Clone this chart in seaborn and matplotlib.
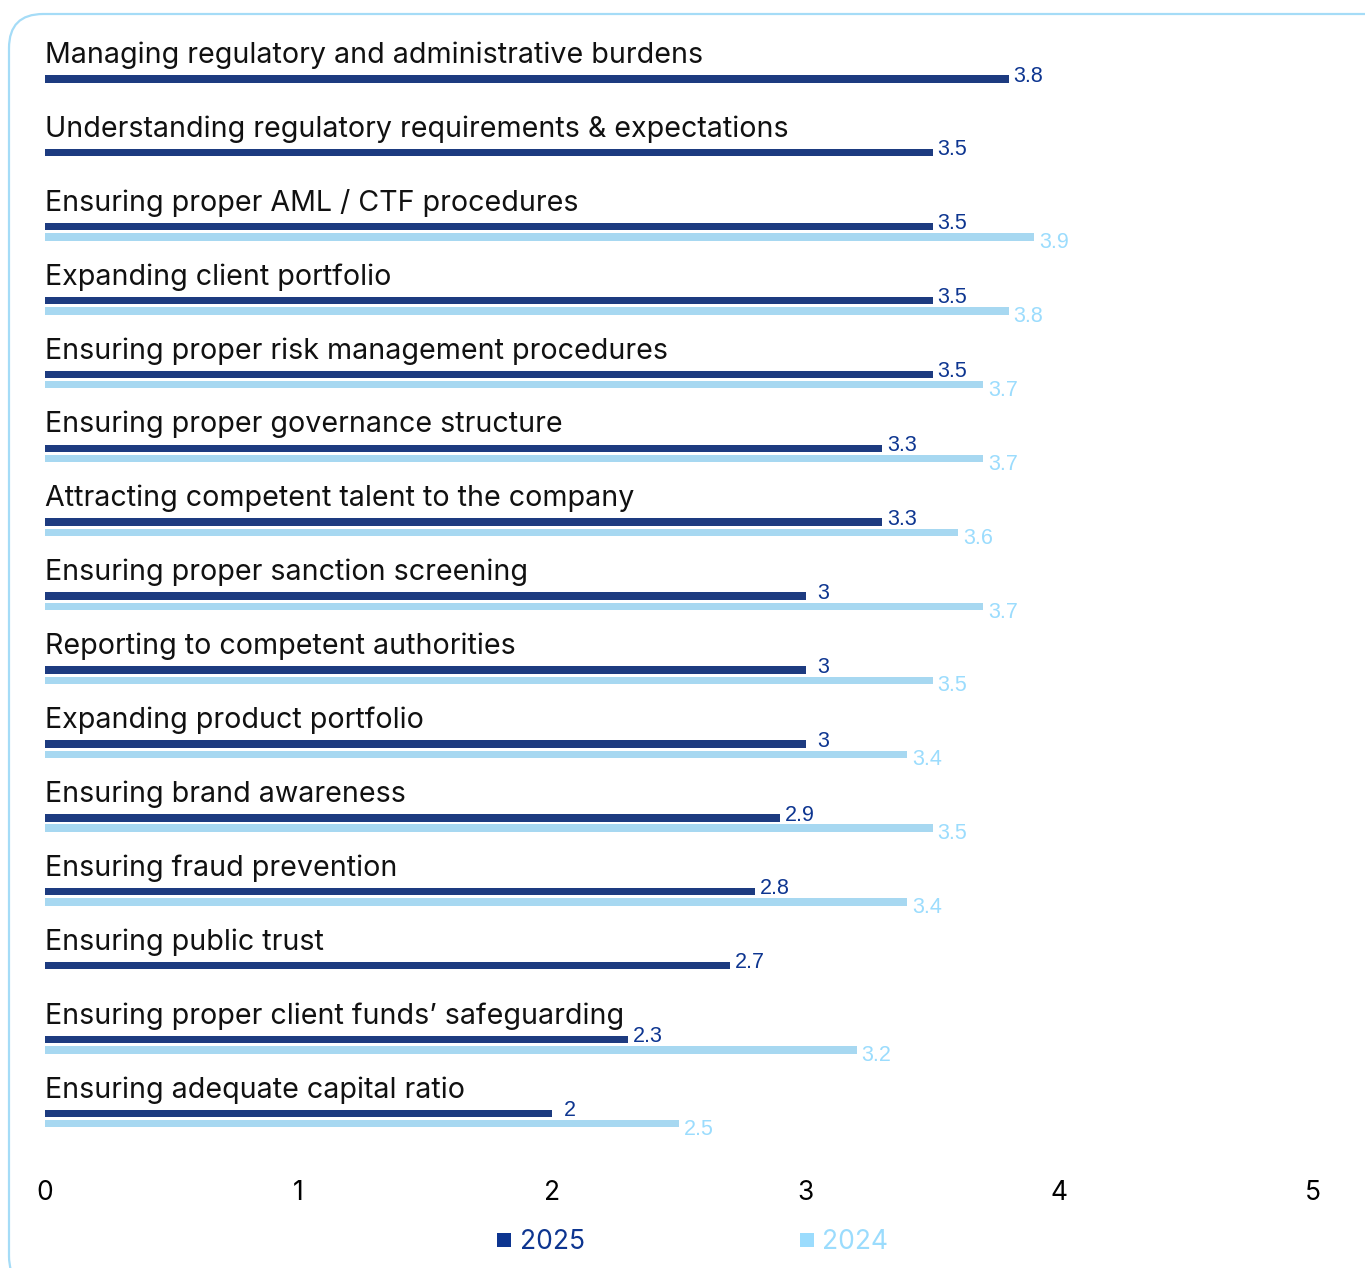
import numpy as np
import pandas as pd
import matplotlib
matplotlib.use("Agg")
import matplotlib.pyplot as plt
from matplotlib.patches import FancyBboxPatch
from matplotlib.lines import Line2D
import seaborn as sns

categories = [
    "Managing regulatory and administrative burdens",
    "Understanding regulatory requirements & expectations",
    "Ensuring proper AML / CTF procedures",
    "Expanding client portfolio",
    "Ensuring proper risk management procedures",
    "Ensuring proper governance structure",
    "Attracting competent talent to the company",
    "Ensuring proper sanction screening",
    "Reporting to competent authorities",
    "Expanding product portfolio",
    "Ensuring brand awareness",
    "Ensuring fraud prevention",
    "Ensuring public trust",
    "Ensuring proper client funds\u2019 safeguarding",
    "Ensuring adequate capital ratio",
]
values_2025 = [3.8, 3.5, 3.5, 3.5, 3.5, 3.3, 3.3, 3.0, 3.0, 3.0, 2.9, 2.8, 2.7, 2.3, 2.0]
values_2024 = [np.nan, np.nan, 3.9, 3.8, 3.7, 3.7, 3.6, 3.7, 3.5, 3.4, 3.5, 3.4, np.nan, 3.2, 2.5]
labels_2025 = ["3.8", "3.5", "3.5", "3.5", "3.5", "3.3", "3.3", "3", "3", "3", "2.9", "2.8", "2.7", "2.3", "2"]
labels_2024 = ["", "", "3.9", "3.8", "3.7", "3.7", "3.6", "3.7", "3.5", "3.4", "3.5", "3.4", "", "3.2", "2.5"]
years = ["2025", "2024"]
x_ticks = [0, 1, 2, 3, 4, 5]

DARK = "#0d3590"
LIGHT = "#9bdcfd"
palette = {"2025": DARK, "2024": LIGHT}

df = pd.DataFrame({
    "category": categories * 2,
    "value": values_2025 + values_2024,
    "year": ["2025"] * len(categories) + ["2024"] * len(categories),
})

W, H, DPI = 1365, 1268, 100
sns.set_style("white")
plt.rcParams["font.family"] = ["Inter", "DejaVu Sans"]
fig = plt.figure(figsize=(W / DPI, H / DPI), dpi=DPI)

# rounded frame
frame = FancyBboxPatch((9 / W, 1 - 1290 / H), (1400 - 9) / W, (1290 - 14) / H,
                       boxstyle="round,pad=0,rounding_size=0.025",
                       transform=fig.transFigure, facecolor="none",
                       edgecolor="#a5dcf7", linewidth=1.6, zorder=-5,
                       mutation_aspect=W / H)
fig.patches.append(frame)

left_px, right_px = 45, 1313
top_px, bottom_px = 20, 1165
ax = fig.add_axes([left_px / W, 1 - bottom_px / H, (right_px - left_px) / W, (bottom_px - top_px) / H])
ax.patch.set_alpha(0)

sns.barplot(data=df, y="category", x="value", hue="year", hue_order=years,
            palette=palette, orient="h", width=0.28, gap=0.28, dodge=True,
            errorbar=None, linewidth=0, legend=False, ax=ax)

ax.set_xlim(0, 5)
ax.set_ylim(14.628, -0.866)
ax.set_xticks(x_ticks)
ax.set_xticklabels([str(t) for t in x_ticks], fontsize=19, color="black")
ax.tick_params(axis="x", length=0, pad=11)
ax.set_yticks([])
ax.set_xlabel("")
ax.set_ylabel("")
for s in ax.spines.values():
    s.set_visible(False)

for i, cat in enumerate(categories):
    ax.text(0, i - 0.39, cat, fontsize=20.6, color="#111111", va="center", ha="left")
    v = values_2025[i]
    lab = labels_2025[i]
    ax.annotate(lab, (v, i - 0.07), xytext=(3.5 if len(lab) > 1 else 8.5, 2),
                textcoords="offset points", fontsize=15.5, color=DARK,
                va="center", ha="left", family="Liberation Sans")
    v2 = values_2024[i]
    if not np.isnan(v2):
        ax.annotate(labels_2024[i], (v2, i + 0.07), xytext=(3.5, -4), textcoords="offset points",
                    fontsize=15.5, color=LIGHT, va="center", ha="left", family="Liberation Sans")

handles = [Line2D([], [], marker="s", linestyle="none", markersize=10,
                  markerfacecolor=palette[y], markeredgewidth=0) for y in years]
leg = fig.legend(handles, years, loc="center", bbox_to_anchor=(691 / W, 1 - 1242 / H),
                 ncol=2, frameon=False, fontsize=19, handletextpad=0.2,
                 columnspacing=8.0, handlelength=0.8,
                 labelcolor=[palette[y] for y in years])

fig.savefig("out.png", dpi=DPI)
